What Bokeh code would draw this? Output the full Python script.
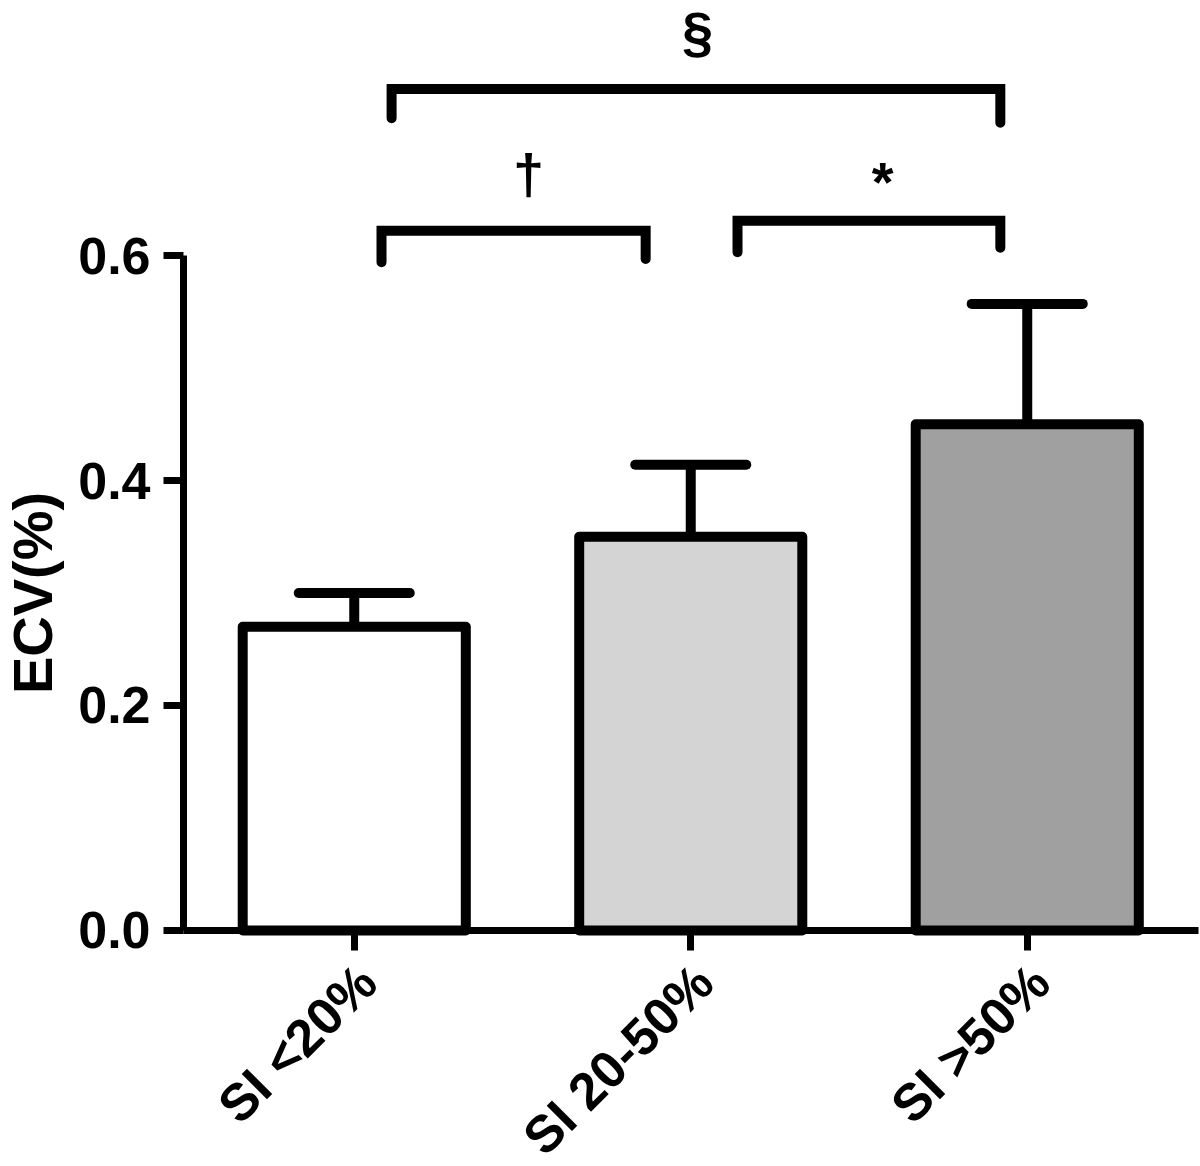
import math
from bokeh.plotting import figure
from bokeh.models import Range1d, FixedTicker, PrintfTickFormatter, LinearAxis, ColumnDataSource
from bokeh.core.properties import value
from bokeh.embed import file_html
from bokeh.resources import INLINE

# ---- data ----
categories = ["SI <20%", "SI 20-50%", "SI >50%"]
ecv_mean = [0.27, 0.35, 0.45]
ecv_sem = [0.03, 0.064, 0.107]
bar_colors = ["#ffffff", "#d4d4d4", "#a0a0a0"]
y_ticks = [0.0, 0.2, 0.4, 0.6]

# significance brackets
sig_symbols = ["§", "†", "*"]
sig_x_left = [0.611, 0.581, 1.639]
sig_x_right = [2.42, 1.366, 2.42]
sig_y_top = [0.748, 0.622, 0.631]
sig_y_left_bottom = [0.722, 0.594, 0.603]
sig_y_right_bottom = [0.718, 0.597, 0.607]
sig_text_x = [1.520, 1.018, 2.070]
sig_text_y = [0.799, 0.673, 0.666]

FONT = "Liberation Sans"
x_pos = [i + 0.5 for i in range(len(categories))]

# plot frame covers the whole canvas; axes are pinned inside it
X0, X1 = -0.5513, 3.0149
Y0, Y1 = -0.2098, 0.8267
AX_X = -0.0074          # x where the y axis sits
AX_X_END = 3.0089       # right end of the x axis line

p = figure(width=1200, height=1166, output_backend="svg", toolbar_location=None,
           x_range=Range1d(X0, X1), y_range=Range1d(Y0, Y1),
           x_axis_type=None, y_axis_type=None,
           min_border_left=0, min_border_right=0, min_border_top=0, min_border_bottom=0)
p.outline_line_color = None
p.background_fill_color = "white"
p.border_fill_color = "white"

src = ColumnDataSource(dict(x=x_pos, top=ecv_mean, color=bar_colors,
                            err_top=[m + e for m, e in zip(ecv_mean, ecv_sem)]))

# error bars (upper only)
p.segment(x0="x", y0="top", x1="x", y1="err_top", source=src, line_color="black", line_width=10)
cap_half = 0.165
p.segment(x0=[x - cap_half for x in x_pos], y0=src.data["err_top"],
          x1=[x + cap_half for x in x_pos], y1=src.data["err_top"],
          line_color="black", line_width=10, line_cap="round")

p.vbar(x="x", top="top", bottom=0, width=0.663, source=src, fill_color="color",
       line_color="black", line_width=10, line_join="round")

# brackets
xs = [[xl, xl, xr, xr] for xl, xr in zip(sig_x_left, sig_x_right)]
ys = [[yb1, yt, yt, yb2] for yb1, yt, yb2 in zip(sig_y_left_bottom, sig_y_top, sig_y_right_bottom)]
p.multi_line(xs=xs, ys=ys, line_color="black", line_width=10, line_cap="round", line_join="miter")

p.text(x=sig_text_x, y=sig_text_y, text=sig_symbols, text_font=value(FONT),
       text_font_style="bold", text_font_size="56px", text_align="center",
       text_baseline="middle", text_color="black")

def style(ax):
    ax.axis_line_width = 7
    ax.axis_line_color = "black"
    ax.major_tick_line_width = 7
    ax.major_tick_line_color = "black"
    ax.major_tick_out = 20
    ax.major_tick_in = 0
    ax.minor_tick_line_color = None
    ax.major_label_text_font = FONT
    ax.major_label_text_font_style = "bold"
    ax.major_label_text_font_size = "52px"
    ax.major_label_text_color = "black"

# y axis
ya = LinearAxis(ticker=FixedTicker(ticks=y_ticks), fixed_location=AX_X)
style(ya)
ya.formatter = PrintfTickFormatter(format="%.1f")
ya.bounds = (0, 0.6)
ya.major_label_standoff = 13
ya.axis_label = "ECV(%)"
ya.axis_label_text_font = FONT
ya.axis_label_text_font_style = "bold"
ya.axis_label_text_font_size = "56px"
ya.axis_label_text_color = "black"
ya.axis_label_standoff = 11
p.add_layout(ya, "left")

# x axis: line + ticks
xa = LinearAxis(ticker=FixedTicker(ticks=x_pos), fixed_location=0)
style(xa)
xa.bounds = (AX_X, AX_X_END)
xa.major_label_text_color = None
p.add_layout(xa, "below")

# x axis: rotated category labels
label_shift = 0.039
lab_ticks = [x + label_shift for x in x_pos]
xl = LinearAxis(ticker=FixedTicker(ticks=lab_ticks), fixed_location=0)
style(xl)
xl.axis_line_color = None
xl.major_tick_line_color = None
xl.major_tick_out = 0
xl.major_label_overrides = {t: c for t, c in zip(lab_ticks, categories)}
xl.major_label_orientation = math.pi / 4
xl.major_label_standoff = 43
p.add_layout(xl, "below")

open("out.html", "w").write(file_html(p, INLINE))
